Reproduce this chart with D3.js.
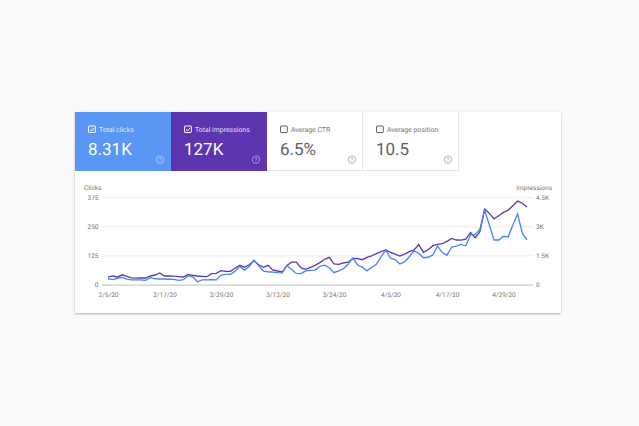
<!DOCTYPE html>
<html>
<head>
<meta charset="utf-8">
<script src="https://cdn.jsdelivr.net/npm/d3@7"></script>
<style>
    html, body { margin: 0; padding: 0; background: #fafafa; overflow: hidden; }
    svg { display: block; font-family: Roboto, sans-serif; text-rendering: geometricPrecision; }
    .axis text { font-size: 6.5px; fill: #757575; font-family: Roboto, sans-serif; }
    .axis .domain { display: none; }
    .grid .domain { display: none; }
    .grid line { stroke: #ececec; }
    .grid .tick:first-of-type line { stroke: #bdbdbd; }
</style>
</head>
<body>
<div id="chart"></div>
<script>
const startDate = new Date(2020, 1, 5);

const clicks = [25, 21, 27, 31, 23, 20, 20, 20, 18, 30, 25, 24, 24, 23, 22, 18, 21, 37, 33, 12,
    20, 20, 21, 20, 41, 44, 44, 57, 78, 62, 77, 105, 81, 58, 55, 53, 51, 50, 82, 65,
    48, 47, 59, 61, 62, 78, 83, 72, 51, 59, 68, 87, 114, 84, 75, 59, 73, 87, 119, 148,
    113, 107, 88, 97, 119, 145, 134, 115, 117, 127, 165, 137, 125, 161, 165, 172, 166, 212, 215, 237,
    319, 255, 191, 191, 207, 204, 255, 303, 220, 192];

const impressions = [390, 452, 380, 503, 426, 349, 329, 349, 339, 442, 493, 596, 442, 452, 432, 411, 390, 519, 478, 442,
    426, 406, 560, 580, 714, 683, 683, 837, 991, 889, 1020, 1230, 1020, 889, 991, 750, 699, 647, 986, 1150,
    1150, 853, 786, 889, 991, 1130, 1300, 1400, 1060, 1040, 1110, 1150, 1330, 1350, 1280, 1400, 1480, 1590, 1690, 1780,
    1660, 1570, 1470, 1570, 1690, 1780, 2050, 1660, 1790, 2000, 2070, 2100, 2220, 2370, 2290, 2280, 2330, 2670, 2410, 2720,
    3880, 3660, 3370, 3540, 3710, 3820, 4050, 4290, 4180, 3990];

const tileLabels = ["Total clicks", "Total impressions", "Average CTR", "Average position"];
const tileValues = ["8.31K", "127K", "6.5%", "10.5"];
const tileFills = ["#5a97f5", "#5e35b1", "#ffffff", "#ffffff"];
const tileChecked = [true, true, false, false];

const clickTicks = [0, 125, 250, 375];
const impressionTicks = [0, 1500, 3000, 4500];
const impressionTickLabels = ["0", "1.5K", "3K", "4.5K"];
const dateTicks = ["2/5/20", "2/17/20", "2/29/20", "3/12/20", "3/24/20", "4/5/20", "4/17/20", "4/29/20"];

const pageWidth = 639, pageHeight = 426;
const card = { left: 75, top: 112, width: 486, height: 201 };
const tileWidth = 96, tileHeight = 59;
const plot = { left: 102, right: 533, top: 197, bottom: 284.6, firstX: 108, lastX: 527 };

const parseTick = d3.timeParse("%-m/%-d/%y");
const days = clicks.map((d, i) => d3.timeDay.offset(startDate, i));

const x = d3.scaleTime()
    .domain(d3.extent(days))
    .range([plot.firstX, plot.lastX]);

const yClicks = d3.scaleLinear().domain([0, 375]).range([plot.bottom, plot.top]);
const yImpressions = d3.scaleLinear().domain([0, 4500]).range([plot.bottom, plot.top]);

const svg = d3.select("#chart").append("svg")
    .attr("width", pageWidth)
    .attr("height", pageHeight);

const defs = svg.append("defs");
defs.append("filter")
    .attr("id", "shadow")
    .attr("x", "-5%").attr("y", "-5%")
    .attr("width", "110%").attr("height", "110%")
    .append("feDropShadow")
    .attr("dx", 0).attr("dy", 1)
    .attr("stdDeviation", 1.3)
    .attr("flood-color", "#000")
    .attr("flood-opacity", 0.3);

svg.append("rect")
    .attr("x", card.left).attr("y", card.top)
    .attr("width", card.width).attr("height", card.height)
    .attr("fill", "#fff")
    .attr("filter", "url(#shadow)");

// metric tiles
const tiles = svg.selectAll("g.tile")
    .data(tileLabels)
    .join("g")
    .attr("class", "tile")
    .attr("transform", (d, i) => `translate(${card.left + i * tileWidth},${card.top})`);

tiles.append("rect")
    .attr("width", tileWidth)
    .attr("height", tileHeight)
    .attr("fill", (d, i) => tileFills[i]);

// thin separators for the two white tiles
tiles.filter((d, i) => !tileChecked[i]).append("path")
    .attr("d", `M${tileWidth - 0.5},0V${tileHeight - 0.5}H0`)
    .attr("fill", "none")
    .attr("stroke", "#e4e4e4");

const textColor = i => tileChecked[i] ? "#fff" : "#616161";

tiles.append("rect")
    .attr("x", 13.5).attr("y", 14)
    .attr("width", 6.8).attr("height", 6.5)
    .attr("rx", 0.6)
    .attr("fill", "none")
    .attr("stroke", (d, i) => tileChecked[i] ? "#fff" : "#616161")
    .attr("stroke-width", 1);

tiles.filter((d, i) => tileChecked[i]).append("path")
    .attr("d", "M15,17.5l1.5,1.4l2.6,-3")
    .attr("fill", "none")
    .attr("stroke", "#fff")
    .attr("stroke-width", 1);

tiles.append("text")
    .attr("x", 24)
    .attr("y", 19.8)
    .attr("font-size", 6.9)
    .attr("fill", (d, i) => tileChecked[i] ? "rgba(255,255,255,0.85)" : "#757575")
    .text(d => d);

tiles.append("text")
    .attr("x", 13)
    .attr("y", 42.5)
    .attr("font-size", 17)
    .attr("fill", (d, i) => textColor(i))
    .text((d, i) => tileValues[i]);

tiles.append("circle")
    .attr("cx", 85).attr("cy", 47.7).attr("r", 3.7)
    .attr("fill", "none")
    .attr("stroke", (d, i) => tileChecked[i] ? "rgba(255,255,255,0.6)" : "#9e9e9e")
    .attr("stroke-width", 0.8);

tiles.append("text")
    .attr("x", 85).attr("y", 50)
    .attr("text-anchor", "middle")
    .attr("font-size", 6)
    .attr("fill", (d, i) => tileChecked[i] ? "rgba(255,255,255,0.6)" : "#9e9e9e")
    .text("?");

// gridlines
svg.append("g")
    .attr("class", "grid")
    .attr("transform", `translate(${plot.left},0)`)
    .call(d3.axisLeft(yClicks).tickValues(clickTicks).tickSize(-(plot.right - plot.left)).tickFormat(""));

svg.append("g")
    .attr("class", "axis")
    .attr("transform", `translate(${plot.left},0)`)
    .call(d3.axisLeft(yClicks).tickValues(clickTicks).tickSize(0).tickPadding(3.5));

svg.append("g")
    .attr("class", "axis")
    .attr("transform", `translate(${plot.right},0)`)
    .call(d3.axisRight(yImpressions).tickValues(impressionTicks).tickSize(0).tickPadding(3)
        .tickFormat((d, i) => impressionTickLabels[i]));

svg.append("g")
    .attr("class", "axis")
    .attr("transform", `translate(0,${plot.bottom + 5})`)
    .call(d3.axisBottom(x).tickValues(dateTicks.map(parseTick)).tickSize(0).tickPadding(3)
        .tickFormat((d, i) => dateTicks[i]));

svg.append("text")
    .attr("x", 84).attr("y", 189.5)
    .attr("font-size", 6.5).attr("fill", "#757575")
    .text("Clicks");

svg.append("text")
    .attr("x", 552).attr("y", 189.5)
    .attr("text-anchor", "end")
    .attr("font-size", 6.5).attr("fill", "#757575")
    .text("Impressions");

// lines
const clicksLine = d3.line().x((d, i) => x(days[i])).y(d => yClicks(d));
const impressionsLine = d3.line().x((d, i) => x(days[i])).y(d => yImpressions(d));

svg.append("path")
    .datum(impressions)
    .attr("d", impressionsLine)
    .attr("fill", "none")
    .attr("stroke", "#5e35b1")
    .attr("stroke-width", 1.3);

svg.append("path")
    .datum(clicks)
    .attr("d", clicksLine)
    .attr("fill", "none")
    .attr("stroke", "#4285f4")
    .attr("stroke-width", 1.3);
</script>
</body>
</html>
